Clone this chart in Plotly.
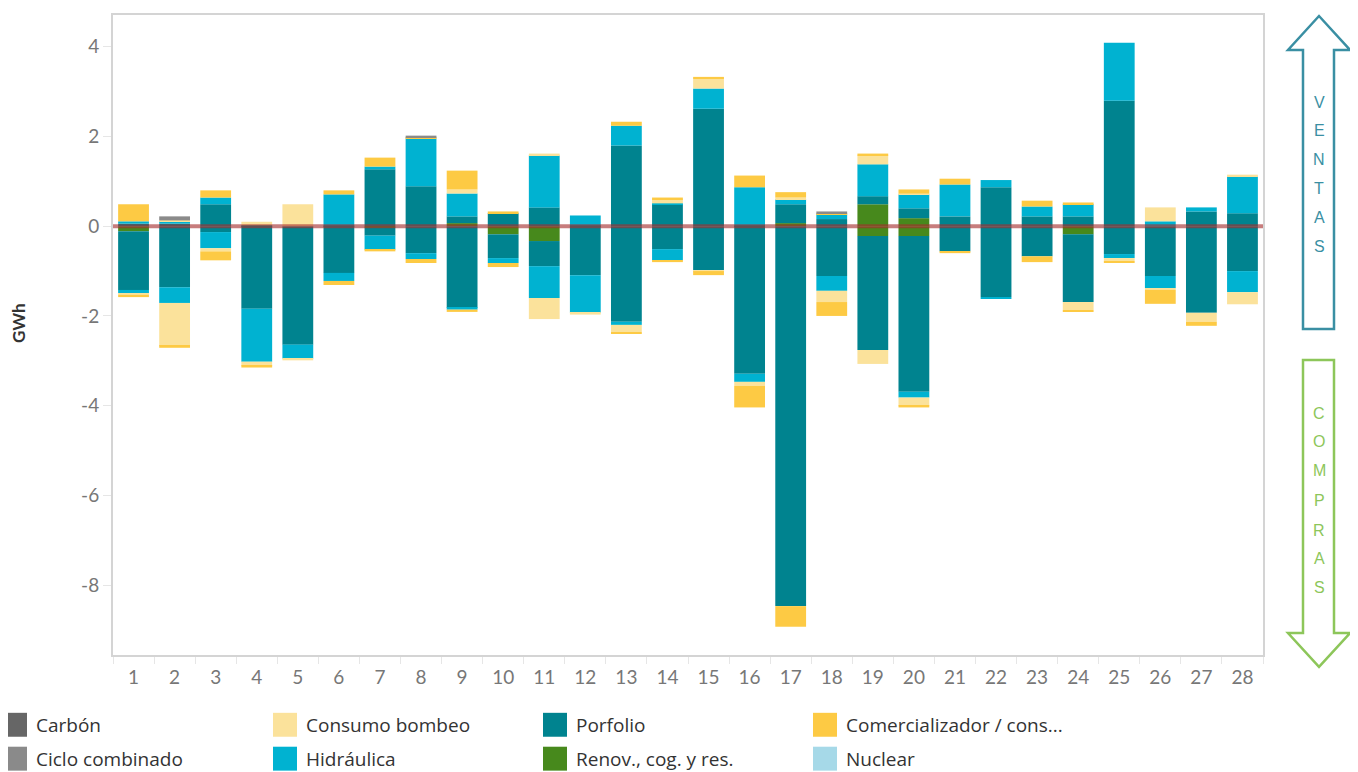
import plotly.graph_objects as go

days = [str(d) for d in range(1, 29)]

# Values in GWh (positive = ventas, negative = compras), per day 1..28
renov_pos = [0, 0, 0, 0, 0, 0, 0, 0, 0.07, 0, 0, 0, 0, 0, 0, 0, 0.07, 0, 0.49, 0.18, 0, 0, 0, 0, 0, 0, 0, 0]
renov_neg = [-0.11, 0, 0, 0, 0, 0, -0.03, 0, 0, -0.18, -0.33, 0, 0, 0, 0, 0, 0, 0, -0.22, -0.22, 0, 0, 0, -0.18, 0, 0, 0, 0]

porfolio_pos = [0.06, 0.06, 0.49, 0.02, 0, 0.02, 1.27, 0.89, 0.15, 0.29, 0.42, 0.02, 1.80, 0.49,
                2.62, 0.02, 0.42, 0.16, 0.18, 0.22, 0.22, 0.87, 0.22, 0.22, 2.80, 0, 0.33, 0.29]
porfolio_neg = [-1.31, -1.36, -0.13, -1.84, -2.64, -1.04, -0.18, -0.60, -1.82, -0.53, -0.56, -1.09, -2.13, -0.51,
                -0.98, -3.29, -8.47, -1.11, -2.54, -3.47, -0.56, -1.58, -0.67, -1.51, -0.62, -1.11, -1.93, -1.00]

hidraulica_pos = [0.05, 0.05, 0.15, 0, 0, 0.69, 0.06, 1.07, 0.51, 0, 1.16, 0.22, 0.44, 0.02,
                  0.45, 0.85, 0.11, 0.11, 0.71, 0.31, 0.71, 0.16, 0.22, 0.27, 1.29, 0.11, 0.09, 0.82]
hidraulica_neg = [-0.07, -0.35, -0.36, -1.18, -0.31, -0.18, -0.31, -0.13, -0.04, -0.11, -0.71, -0.84, -0.07, -0.25,
                  0, -0.18, 0, -0.33, 0, -0.13, 0, -0.04, 0, 0, -0.09, -0.27, 0, -0.47]

bombeo_pos = [0, 0.02, 0, 0.08, 0.49, 0, 0, 0, 0.09, 0, 0.04, 0, 0, 0.09,
              0.22, 0, 0.04, 0, 0.20, 0.02, 0, 0, 0, 0, 0, 0.31, 0, 0.04]
bombeo_neg = [-0.04, -0.96, -0.07, -0.09, -0.04, 0, 0, 0, 0, 0, -0.47, -0.04, -0.16, 0,
              -0.02, -0.09, 0, -0.25, -0.31, -0.18, 0, 0, 0, -0.18, -0.07, -0.04, -0.20, -0.27]

comerc_pos = [0.38, 0, 0.16, 0, 0, 0.09, 0.20, 0.02, 0.42, 0.04, 0, 0, 0.09, 0.04,
              0.04, 0.26, 0.12, 0.02, 0.04, 0.09, 0.13, 0, 0.13, 0.04, 0, 0, 0, 0]
comerc_neg = [-0.05, -0.04, -0.20, -0.04, 0, -0.09, -0.04, -0.09, -0.05, -0.09, 0, 0, -0.04, -0.04,
              -0.09, -0.48, -0.46, -0.31, 0, -0.04, -0.04, 0, -0.13, -0.04, -0.04, -0.31, -0.09, 0]

ciclo_pos = [0, 0.09, 0, 0, 0, 0, 0, 0.04, 0, 0, 0, 0, 0, 0, 0, 0, 0, 0.04, 0, 0, 0, 0, 0, 0, 0, 0, 0, 0]
carbon_pos = [0] * 28
nuclear_pos = [0] * 28

y_ticks = [-8, -6, -4, -2, 0, 2, 4]

series = [
    ("Renov., cog. y res.", "#47891C", renov_pos, renov_neg),
    ("Porfolio", "#00838F", porfolio_pos, porfolio_neg),
    ("Hidráulica", "#00B2D1", hidraulica_pos, hidraulica_neg),
    ("Consumo bombeo", "#FBE29B", bombeo_pos, bombeo_neg),
    ("Comercializador / consumidor", "#FDCA44", comerc_pos, comerc_neg),
    ("Ciclo combinado", "#8A8A8A", ciclo_pos, None),
    ("Carbón", "#666666", carbon_pos, None),
    ("Nuclear", "#A6D9E8", nuclear_pos, None),
]

fig = go.Figure()
for name, color, pos, neg in series:
    fig.add_trace(go.Bar(x=days, y=pos, name=name, marker=dict(color=color, line=dict(width=0)),
                         showlegend=False, legendgroup=name))
    if neg is not None:
        fig.add_trace(go.Bar(x=days, y=neg, name=name, marker=dict(color=color, line=dict(width=0)),
                             showlegend=False, legendgroup=name))

# page body has an 8px margin: lay out in screen pixels and shift
OFF = 8
W, H = 1358 - OFF, 772 - OFF
L, R, T, B = 113, 1263, 13, 655  # plot area in screen pixels


def px(x):
    return (x - L) / (R - L)


def py(y):
    return (B - y) / (B - T)


shapes = []
annotations = []

# zero reference line
shapes.append(dict(type="line", xref="paper", x0=0, x1=1, yref="y", y0=0, y1=0,
                   line=dict(color="rgba(165,45,45,0.62)", width=4), layer="above"))


def poly(points, color):
    d = "M " + " L ".join(f"{px(a):.5f},{py(b):.5f}" for a, b in points) + " Z"
    return dict(type="path", xref="paper", yref="paper", path=d,
                line=dict(color=color, width=2.5), fillcolor="white", layer="above")


ventas_col = "#3A8FA3"
compras_col = "#8DC65A"
shapes.append(poly([(1319, 14), (1350, 48), (1334, 48), (1334, 328), (1303, 328), (1303, 48), (1288, 48)], ventas_col))
shapes.append(poly([(1303, 359), (1334, 359), (1334, 633), (1350, 633), (1319, 667), (1288, 633), (1303, 633)], compras_col))

for ch, yy in zip("VENTAS", [101, 129, 158, 187, 216, 245]):
    annotations.append(dict(text=ch, xref="paper", yref="paper", x=px(1319), y=py(yy), showarrow=False,
                            xanchor="center", yanchor="middle",
                            font=dict(family="Liberation Sans, Arial", size=16, color=ventas_col)))
for ch, yy in zip("COMPRAS", [413, 441, 470, 500, 530, 558, 587]):
    annotations.append(dict(text=ch, xref="paper", yref="paper", x=px(1319), y=py(yy), showarrow=False,
                            xanchor="center", yanchor="middle",
                            font=dict(family="Liberation Sans, Arial", size=16, color=compras_col)))

# y-axis title
annotations.append(dict(text="<b>GWh</b>", xref="paper", yref="paper", x=px(18), y=py(322), textangle=-90,
                        xanchor="center", yanchor="middle",
                        showarrow=False, font=dict(family="Lato, Open Sans", size=17, color="#333333")))

# manual legend
legend_items = [
    ("Carbón", "#666666", 3, 725), ("Consumo bombeo", "#FBE29B", 273, 725),
    ("Porfolio", "#00838F", 543, 725), ("Comercializador / cons...", "#FDCA44", 813, 725),
    ("Ciclo combinado", "#8A8A8A", 3, 759), ("Hidráulica", "#00B2D1", 273, 759),
    ("Renov., cog. y res.", "#47891C", 543, 759), ("Nuclear", "#A6D9E8", 813, 759),
]
for label, color, lx, ly in legend_items:
    shapes.append(dict(type="rect", xref="paper", yref="paper", x0=px(lx), x1=px(lx + 24),
                       y0=py(ly + 12), y1=py(ly - 12), fillcolor=color, line=dict(width=0)))
    annotations.append(dict(text=label, xref="paper", yref="paper", x=px(lx + 31), y=py(ly),
                            xanchor="left", yanchor="middle", showarrow=False,
                            font=dict(family="Open Sans, Lato", size=19, color="#333333")))

fig.update_layout(
    width=W, height=H,
    margin=dict(l=L - OFF, r=(W + OFF) - R, t=T - OFF, b=(H + OFF) - B),
    barmode="relative", bargap=0.25,
    plot_bgcolor="white", paper_bgcolor="white",
    showlegend=False,
    font=dict(family="Lato, Open Sans", color="#777777"),
    shapes=shapes, annotations=annotations,
    xaxis=dict(type="category", tickson="boundaries", ticks="outside", ticklen=7, tickcolor="#e6e6e6",
               showline=True, linecolor="#d4d4d4", linewidth=1.5, mirror=True, showgrid=False,
               tickfont=dict(size=19, color="#777777"), ticklabelstandoff=4, range=[-0.5, 27.5]),
    yaxis=dict(range=[-9.56, 4.71], tickvals=y_ticks, ticktext=[str(v) for v in y_ticks],
               ticks="outside", ticklen=8, tickcolor="#e6e6e6",
               showline=True, linecolor="#d4d4d4", linewidth=2, mirror=True,
               showgrid=False, zeroline=False, tickfont=dict(size=19, color="#777777")),
)

fig.write_html("out.html")
